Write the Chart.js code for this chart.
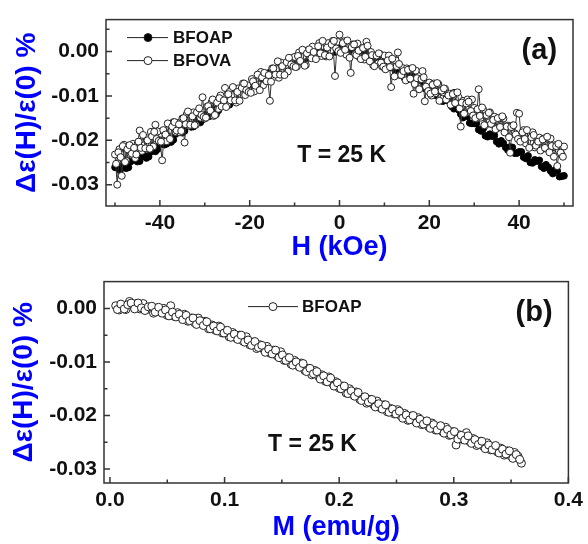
<!DOCTYPE html>
<html>
<head>
<meta charset="utf-8">
<script src="https://cdn.jsdelivr.net/npm/chart.js@4.4.1/dist/chart.umd.min.js"></script>
<style>
  body { margin: 0; background: #fff; }
  #wrap { position: relative; width: 588px; height: 544px; }
  canvas { position: absolute; left: 0; }
</style>
</head>
<body>
<div id="wrap">
  <canvas id="panelA" width="588" height="262" style="top:0"></canvas>
  <canvas id="panelB" width="588" height="282" style="top:262px"></canvas>
</div>
<script>
// panel (a): dielectric change vs field, two samples (field swept up, then back)
const fieldVA = [
  -50,-49.5,-49,-48.5,-48,-47.5,-47,-46.5,-46,-45.5,
  -45,-44.5,-44,-43.5,-43,-42.5,-42,-41.5,-41,-40.5,
  -40,-39.5,-39,-38.5,-38,-37.5,-37,-36.5,-36,-35.5,
  -35,-34.5,-34,-33.5,-33,-32.5,-32,-31.5,-31,-30.5,
  -30,-29.5,-29,-28.5,-28,-27.5,-27,-26.5,-26,-25.5,
  -25,-24.5,-24,-23.5,-23,-22.5,-22,-21.5,-21,-20.5,
  -20,-19.5,-19,-18.5,-18,-17.5,-17,-16.5,-16,-15.5,
  -15,-14.5,-14,-13.5,-13,-12.5,-12,-11.5,-11,-10.5,
  -10,-9.5,-9,-8.5,-8,-7.5,-7,-6.5,-6,-5.5,
  -5,-4.5,-4,-3.5,-3,-2.5,-2,-1.5,-1,-0.5,
  0,0.5,1,1.5,2,2.5,3,3.5,4,4.5,
  5,5.5,6,6.5,7,7.5,8,8.5,9,9.5,
  10,10.5,11,11.5,12,12.5,13,13.5,14,14.5,
  15,15.5,16,16.5,17,17.5,18,18.5,19,19.5,
  20,20.5,21,21.5,22,22.5,23,23.5,24,24.5,
  25,25.5,26,26.5,27,27.5,28,28.5,29,29.5,
  30,30.5,31,31.5,32,32.5,33,33.5,34,34.5,
  35,35.5,36,36.5,37,37.5,38,38.5,39,39.5,
  40,40.5,41,41.5,42,42.5,43,43.5,44,44.5,
  45,45.5,46,46.5,47,47.5,48,48.5,49,49.5,
  50
];
const bfova = [
  -0.0232,-0.0300,-0.0220,-0.0280,-0.0210,-0.0246,-0.0222,-0.0232,-0.0208,-0.0240,
  -0.0209,-0.0178,-0.0224,-0.0211,-0.0195,-0.0210,-0.0181,-0.0214,-0.0165,-0.0180,
  -0.0200,-0.0245,-0.0180,-0.0202,-0.0170,-0.0178,-0.0159,-0.0181,-0.0161,-0.0182,
  -0.0151,-0.0205,-0.0141,-0.0167,-0.0150,-0.0137,-0.0165,-0.0139,-0.0149,-0.0103,
  -0.0151,-0.0124,-0.0134,-0.0115,-0.0145,-0.0116,-0.0129,-0.0099,-0.0116,-0.0082,
  -0.0121,-0.0091,-0.0109,-0.0097,-0.0115,-0.0083,-0.0096,-0.0072,-0.0098,-0.0076,
  -0.0089,-0.0062,-0.0090,-0.0067,-0.0074,-0.0046,-0.0076,-0.0051,-0.0059,-0.0111,
  -0.0038,-0.0057,-0.0038,-0.0059,-0.0025,-0.0043,-0.0031,-0.0045,-0.0015,-0.0030,
  -0.0012,-0.0034,-0.0002,-0.0023,-0.0010,-0.0030,0.0003,-0.0013,0.0011,-0.0013,
  -0.0009,0.0019,-0.0010,0.0012,-0.0011,0.0019,0.0003,0.0024,-0.0055,0.0022,
  0.0038,0.0001,0.0023,-0.0007,0.0013,-0.0048,0.0016,-0.0006,0.0018,-0.0013,
  0.0007,-0.0018,0.0022,-0.0015,-0.0001,-0.0031,-0.0011,-0.0027,-0.0006,-0.0034,
  -0.0009,-0.0035,-0.0009,-0.0080,-0.0032,-0.0020,-0.0002,-0.0053,-0.0037,-0.0060,
  -0.0038,-0.0062,-0.0041,-0.0095,-0.0043,-0.0079,-0.0062,-0.0044,-0.0112,-0.0073,
  -0.0070,-0.0099,-0.0072,-0.0094,-0.0073,-0.0104,-0.0092,-0.0084,-0.0105,-0.0095,
  -0.0117,-0.0093,-0.0115,-0.0103,-0.0169,-0.0111,-0.0137,-0.0108,-0.0136,-0.0108,
  -0.0127,-0.0151,-0.0085,-0.0149,-0.0131,-0.0166,-0.0145,-0.0137,-0.0164,-0.0147,
  -0.0174,-0.0151,-0.0170,-0.0151,-0.0181,-0.0167,-0.0228,-0.0167,-0.0184,-0.0138,
  -0.0140,-0.0199,-0.0177,-0.0207,-0.0188,-0.0203,-0.0182,-0.0216,-0.0198,-0.0194,
  -0.0218,-0.0196,-0.0219,-0.0197,-0.0196,-0.0230,-0.0211,-0.0258,-0.0213,-0.0232,
  -0.0214
];
const fieldVA2 = [
  -49.75,-49.25,-48.75,-48.25,-47.75,-47.25,-46.75,-46.25,-45.75,-45.25,
  -44.75,-44.25,-43.75,-43.25,-42.75,-42.25,-41.75,-41.25,-40.75,-40.25,
  -39.75,-39.25,-38.75,-38.25,-37.75,-37.25,-36.75,-36.25,-35.75,-35.25,
  -34.75,-34.25,-33.75,-33.25,-32.75,-32.25,-31.75,-31.25,-30.75,-30.25,
  -29.75,-29.25,-28.75,-28.25,-27.75,-27.25,-26.75,-26.25,-25.75,-25.25,
  -24.75,-24.25,-23.75,-23.25,-22.75,-22.25,-21.75,-21.25,-20.75,-20.25,
  -19.75,-19.25,-18.75,-18.25,-17.75,-17.25,-16.75,-16.25,-15.75,-15.25,
  -14.75,-14.25,-13.75,-13.25,-12.75,-12.25,-11.75,-11.25,-10.75,-10.25,
  -9.75,-9.25,-8.75,-8.25,-7.75,-7.25,-6.75,-6.25,-5.75,-5.25,
  -4.75,-4.25,-3.75,-3.25,-2.75,-2.25,-1.75,-1.25,-0.75,-0.25,
  0.25,0.75,1.25,1.75,2.25,2.75,3.25,3.75,4.25,4.75,
  5.25,5.75,6.25,6.75,7.25,7.75,8.25,8.75,9.25,9.75,
  10.25,10.75,11.25,11.75,12.25,12.75,13.25,13.75,14.25,14.75,
  15.25,15.75,16.25,16.75,17.25,17.75,18.25,18.75,19.25,19.75,
  20.25,20.75,21.25,21.75,22.25,22.75,23.25,23.75,24.25,24.75,
  25.25,25.75,26.25,26.75,27.25,27.75,28.25,28.75,29.25,29.75,
  30.25,30.75,31.25,31.75,32.25,32.75,33.25,33.75,34.25,34.75,
  35.25,35.75,36.25,36.75,37.25,37.75,38.25,38.75,39.25,39.75,
  40.25,40.75,41.25,41.75,42.25,42.75,43.25,43.75,44.25,44.75,
  45.25,45.75,46.25,46.75,47.25,47.75,48.25,48.75,49.25,49.75
];
const bfova2 = [
  -0.0253,-0.0227,-0.0238,-0.0213,-0.0249,-0.0220,-0.0211,-0.0230,-0.0217,-0.0232,
  -0.0203,-0.0217,-0.0188,-0.0218,-0.0200,-0.0219,-0.0191,-0.0181,-0.0197,-0.0201,
  -0.0203,-0.0177,-0.0187,-0.0162,-0.0197,-0.0169,-0.0159,-0.0178,-0.0164,-0.0179,
  -0.0150,-0.0164,-0.0135,-0.0165,-0.0146,-0.0166,-0.0137,-0.0128,-0.0143,-0.0147,
  -0.0149,-0.0123,-0.0133,-0.0108,-0.0143,-0.0115,-0.0105,-0.0124,-0.0110,-0.0125,
  -0.0096,-0.0110,-0.0080,-0.0110,-0.0091,-0.0111,-0.0082,-0.0072,-0.0087,-0.0091,
  -0.0093,-0.0067,-0.0077,-0.0052,-0.0087,-0.0058,-0.0048,-0.0067,-0.0053,-0.0068,
  -0.0038,-0.0052,-0.0022,-0.0052,-0.0033,-0.0053,-0.0024,-0.0014,-0.0029,-0.0033,
  -0.0035,-0.0010,-0.0021,0.0004,-0.0032,-0.0004,0.0005,-0.0015,-0.0001,-0.0017,
  0.0012,-0.0004,0.0024,-0.0008,0.0009,-0.0011,0.0016,0.0024,0.0007,0.0001,
  -0.0003,0.0019,0.0004,0.0025,-0.0014,0.0010,0.0016,-0.0008,0.0002,-0.0017,
  0.0008,-0.0012,0.0013,-0.0022,-0.0008,-0.0033,-0.0009,-0.0004,-0.0025,-0.0034,
  -0.0040,-0.0020,-0.0035,-0.0016,-0.0056,-0.0033,-0.0028,-0.0053,-0.0044,-0.0065,
  -0.0041,-0.0061,-0.0037,-0.0073,-0.0060,-0.0085,-0.0062,-0.0058,-0.0079,-0.0089,
  -0.0095,-0.0075,-0.0090,-0.0071,-0.0111,-0.0088,-0.0083,-0.0108,-0.0099,-0.0120,
  -0.0096,-0.0116,-0.0092,-0.0128,-0.0115,-0.0140,-0.0117,-0.0113,-0.0134,-0.0144,
  -0.0150,-0.0130,-0.0145,-0.0126,-0.0166,-0.0143,-0.0138,-0.0163,-0.0154,-0.0175,
  -0.0150,-0.0170,-0.0146,-0.0182,-0.0169,-0.0193,-0.0170,-0.0166,-0.0187,-0.0197,
  -0.0203,-0.0182,-0.0197,-0.0177,-0.0217,-0.0193,-0.0188,-0.0212,-0.0203,-0.0223,
  -0.0198,-0.0217,-0.0192,-0.0227,-0.0213,-0.0237,-0.0213,-0.0208,-0.0228,-0.0237
];
const fieldAP = [
  -50,-49,-48,-47,-46,-45,-44,-43,-42,-41,
  -40,-39,-38,-37,-36,-35,-34,-33,-32,-31,
  -30,-29,-28,-27,-26,-25,-24,-23,-22,-21,
  -20,-19,-18,-17,-16,-15,-14,-13,-12,-11,
  -10,-9,-8,-7,-6,-5,-4,-3,-2,-1,
  0,1,2,3,4,5,6,7,8,9,
  10,11,12,13,14,15,16,17,18,19,
  20,21,22,23,24,25,26,27,28,29,
  30,31,32,33,34,35,36,37,38,39,
  40,41,42,43,44,45,46,47,48,49,
  50
];
const bfoap = [
  -0.0261,-0.0267,-0.0255,-0.0261,-0.0242,-0.0248,-0.0234,-0.0240,-0.0226,-0.0225,
  -0.0209,-0.0210,-0.0198,-0.0199,-0.0181,-0.0183,-0.0165,-0.0170,-0.0157,-0.0160,
  -0.0145,-0.0146,-0.0130,-0.0133,-0.0118,-0.0122,-0.0106,-0.0105,-0.0090,-0.0095,
  -0.0082,-0.0084,-0.0066,-0.0067,-0.0053,-0.0055,-0.0038,-0.0041,-0.0029,-0.0030,
  -0.0013,-0.0017,-0.0005,-0.0012,0.0000,-0.0004,0.0006,-0.0001,0.0007,-0.0001,
  0.0008,0.0000,0.0007,-0.0005,0.0002,-0.0006,-0.0002,-0.0014,-0.0010,-0.0025,
  -0.0022,-0.0034,-0.0030,-0.0046,-0.0043,-0.0053,-0.0052,-0.0068,-0.0068,-0.0083,
  -0.0081,-0.0095,-0.0094,-0.0112,-0.0110,-0.0124,-0.0124,-0.0141,-0.0143,-0.0161,
  -0.0162,-0.0176,-0.0174,-0.0192,-0.0191,-0.0203,-0.0201,-0.0216,-0.0215,-0.0229,
  -0.0226,-0.0238,-0.0235,-0.0251,-0.0247,-0.0259,-0.0255,-0.0269,-0.0267,-0.0282,
  -0.0280
];
const fieldAP2 = [
  -49.5,-48.5,-47.5,-46.5,-45.5,-44.5,-43.5,-42.5,-41.5,-40.5,
  -39.5,-38.5,-37.5,-36.5,-35.5,-34.5,-33.5,-32.5,-31.5,-30.5,
  -29.5,-28.5,-27.5,-26.5,-25.5,-24.5,-23.5,-22.5,-21.5,-20.5,
  -19.5,-18.5,-17.5,-16.5,-15.5,-14.5,-13.5,-12.5,-11.5,-10.5,
  -9.5,-8.5,-7.5,-6.5,-5.5,-4.5,-3.5,-2.5,-1.5,-0.5,
  0.5,1.5,2.5,3.5,4.5,5.5,6.5,7.5,8.5,9.5,
  10.5,11.5,12.5,13.5,14.5,15.5,16.5,17.5,18.5,19.5,
  20.5,21.5,22.5,23.5,24.5,25.5,26.5,27.5,28.5,29.5,
  30.5,31.5,32.5,33.5,34.5,35.5,36.5,37.5,38.5,39.5,
  40.5,41.5,42.5,43.5,44.5,45.5,46.5,47.5,48.5,49.5
];
const bfoap2 = [
  -0.0257,-0.0263,-0.0263,-0.0248,-0.0240,-0.0247,-0.0234,-0.0237,-0.0219,-0.0220,
  -0.0205,-0.0208,-0.0204,-0.0186,-0.0175,-0.0179,-0.0166,-0.0169,-0.0152,-0.0153,
  -0.0140,-0.0144,-0.0142,-0.0125,-0.0115,-0.0120,-0.0106,-0.0108,-0.0089,-0.0089,
  -0.0076,-0.0079,-0.0076,-0.0058,-0.0047,-0.0052,-0.0038,-0.0041,-0.0022,-0.0023,
  -0.0010,-0.0017,-0.0017,-0.0002,0.0005,-0.0005,0.0003,-0.0005,0.0008,0.0002,
  0.0010,-0.0001,-0.0007,0.0003,0.0006,-0.0009,-0.0007,-0.0020,-0.0013,-0.0025,
  -0.0021,-0.0036,-0.0045,-0.0039,-0.0040,-0.0058,-0.0058,-0.0074,-0.0069,-0.0083,
  -0.0082,-0.0099,-0.0110,-0.0106,-0.0109,-0.0129,-0.0131,-0.0149,-0.0146,-0.0162,
  -0.0162,-0.0179,-0.0190,-0.0186,-0.0189,-0.0208,-0.0207,-0.0222,-0.0216,-0.0229,
  -0.0226,-0.0241,-0.0250,-0.0244,-0.0245,-0.0263,-0.0261,-0.0275,-0.0269,-0.0281
];

// panel (b): BFOAP vs magnetization (up and back)
const magM = [
  0.005,0.008,0.011,0.014,0.017,0.020,0.023,0.026,0.029,0.032,
  0.035,0.038,0.041,0.044,0.047,0.050,0.053,0.056,0.059,0.062,
  0.065,0.068,0.071,0.074,0.077,0.080,0.083,0.086,0.089,0.092,
  0.095,0.098,0.101,0.104,0.107,0.110,0.113,0.116,0.119,0.122,
  0.125,0.128,0.131,0.134,0.137,0.140,0.143,0.146,0.149,0.152,
  0.155,0.158,0.161,0.164,0.167,0.170,0.173,0.176,0.179,0.182,
  0.185,0.188,0.191,0.194,0.197,0.200,0.203,0.206,0.209,0.212,
  0.215,0.218,0.221,0.224,0.227,0.230,0.233,0.236,0.239,0.242,
  0.245,0.248,0.251,0.254,0.257,0.260,0.263,0.266,0.269,0.272,
  0.275,0.278,0.281,0.284,0.287,0.290,0.293,0.296,0.299,0.302,
  0.305,0.308,0.311,0.314,0.317,0.320,0.323,0.326,0.329,0.332,
  0.335,0.338,0.341,0.344,0.347,0.350,0.353,0.356,0.359
];
const bfoapM = [
  0.0005,-0.0003,0.0005,-0.0002,0.0013,0.0006,0.0009,-0.0001,0.0009,-0.0002,
  0.0000,-0.0009,0.0001,-0.0007,0.0000,-0.0013,0.0005,-0.0015,-0.0008,-0.0017,
  -0.0011,-0.0024,-0.0018,-0.0027,-0.0018,-0.0029,-0.0024,-0.0038,-0.0031,-0.0041,
  -0.0033,-0.0046,-0.0042,-0.0053,-0.0045,-0.0055,-0.0050,-0.0061,-0.0053,-0.0068,
  -0.0063,-0.0075,-0.0068,-0.0076,-0.0071,-0.0084,-0.0078,-0.0089,-0.0081,-0.0097,
  -0.0092,-0.0104,-0.0097,-0.0107,-0.0102,-0.0116,-0.0112,-0.0124,-0.0116,-0.0127,
  -0.0124,-0.0136,-0.0128,-0.0140,-0.0137,-0.0149,-0.0145,-0.0158,-0.0150,-0.0161,
  -0.0156,-0.0170,-0.0166,-0.0177,-0.0170,-0.0180,-0.0173,-0.0186,-0.0180,-0.0193,
  -0.0187,-0.0197,-0.0189,-0.0201,-0.0196,-0.0209,-0.0201,-0.0210,-0.0204,-0.0217,
  -0.0211,-0.0221,-0.0214,-0.0227,-0.0221,-0.0230,-0.0222,-0.0237,-0.0230,-0.0255,
  -0.0236,-0.0245,-0.0232,-0.0249,-0.0243,-0.0256,-0.0248,-0.0258,-0.0251,-0.0264,
  -0.0258,-0.0268,-0.0261,-0.0274,-0.0266,-0.0276,-0.0269,-0.0276,-0.0289
];
const magM2 = [
  0.0065,0.0095,0.0125,0.0155,0.0185,0.0215,0.0245,0.0275,0.0305,0.0335,
  0.0365,0.0395,0.0425,0.0455,0.0485,0.0515,0.0545,0.0575,0.0605,0.0635,
  0.0665,0.0695,0.0725,0.0755,0.0785,0.0815,0.0845,0.0875,0.0905,0.0935,
  0.0965,0.0995,0.1025,0.1055,0.1085,0.1115,0.1145,0.1175,0.1205,0.1235,
  0.1265,0.1295,0.1325,0.1355,0.1385,0.1415,0.1445,0.1475,0.1505,0.1535,
  0.1565,0.1595,0.1625,0.1655,0.1685,0.1715,0.1745,0.1775,0.1805,0.1835,
  0.1865,0.1895,0.1925,0.1955,0.1985,0.2015,0.2045,0.2075,0.2105,0.2135,
  0.2165,0.2195,0.2225,0.2255,0.2285,0.2315,0.2345,0.2375,0.2405,0.2435,
  0.2465,0.2495,0.2525,0.2555,0.2585,0.2615,0.2645,0.2675,0.2705,0.2735,
  0.2765,0.2795,0.2825,0.2855,0.2885,0.2915,0.2945,0.2975,0.3005,0.3035,
  0.3065,0.3095,0.3125,0.3155,0.3185,0.3215,0.3245,0.3275,0.3305,0.3335,
  0.3365,0.3395,0.3425,0.3455,0.3485,0.3515,0.3545,0.3575
];
const bfoapM2 = [
  -0.0002,0.0008,-0.0001,0.0007,0.0010,-0.0001,0.0010,0.0001,-0.0004,0.0003,
  0.0004,-0.0007,0.0002,-0.0009,-0.0003,-0.0014,-0.0007,-0.0016,-0.0011,-0.0021,
  -0.0013,-0.0023,-0.0018,-0.0030,-0.0023,-0.0032,-0.0025,-0.0038,-0.0033,-0.0042,
  -0.0035,-0.0046,-0.0041,-0.0054,-0.0048,-0.0058,-0.0050,-0.0063,-0.0059,-0.0069,
  -0.0062,-0.0073,-0.0069,-0.0082,-0.0076,-0.0085,-0.0078,-0.0092,-0.0087,-0.0097,
  -0.0092,-0.0106,-0.0100,-0.0110,-0.0103,-0.0118,-0.0112,-0.0122,-0.0118,-0.0132,
  -0.0126,-0.0137,-0.0130,-0.0145,-0.0139,-0.0150,-0.0145,-0.0159,-0.0154,-0.0164,
  -0.0157,-0.0172,-0.0165,-0.0175,-0.0170,-0.0184,-0.0178,-0.0188,-0.0180,-0.0194,
  -0.0188,-0.0197,-0.0192,-0.0205,-0.0199,-0.0208,-0.0200,-0.0214,-0.0207,-0.0216,
  -0.0210,-0.0224,-0.0217,-0.0227,-0.0219,-0.0233,-0.0226,-0.0236,-0.0230,-0.0244,
  -0.0237,-0.0246,-0.0238,-0.0252,-0.0245,-0.0254,-0.0248,-0.0262,-0.0255,-0.0264,
  -0.0256,-0.0270,-0.0263,-0.0272,-0.0266,-0.0280,-0.0273,-0.0282
];

// tick values
const xTicksA = [-40, -20, 0, 20, 40];
const xMinorA = [-50, -30, -10, 10, 30, 50];
const xTicksB = [0, 0.1, 0.2, 0.3, 0.4];
const xMinorB = [0.05, 0.15, 0.25, 0.35];
const yTicks = [0, -0.01, -0.02, -0.03];
const yMinorA = [0.005, -0.005, -0.015, -0.025];
const yMinorB = [-0.005, -0.015, -0.025];

const FONT = 'Arial, "Liberation Sans", sans-serif';
const BLUE = '#0000ff';

function pts(xs, ys) {
  return xs.map((x, i) => ({x: x, y: ys[i]}));
}

function openSet(label, data, order, r) {
  return {
    label: label, data: data, showLine: true, order: order,
    borderColor: '#333', borderWidth: 1,
    pointRadius: r, pointBackgroundColor: '#fff', pointBorderColor: '#222', pointBorderWidth: 1
  };
}
function filledSet(label, data, order) {
  return {
    label: label, data: data, showLine: true, order: order,
    borderColor: '#111', borderWidth: 1,
    pointRadius: 3.3, pointBackgroundColor: '#000', pointBorderColor: '#000', pointBorderWidth: 1
  };
}

// frame, inward ticks, legend and labels drawn on top of the data
const decor = {
  id: 'decor',
  afterDatasetsDraw(chart, args, o) {
    const ctx = chart.ctx;
    const {left, right, top, bottom} = chart.chartArea;
    const xs = chart.scales.x, ys = chart.scales.y;
    ctx.save();
    ctx.strokeStyle = '#333';
    ctx.lineWidth = 1.5;
    ctx.beginPath();
    o.xMajor.forEach(v => { const p = xs.getPixelForValue(v); ctx.moveTo(p, bottom); ctx.lineTo(p, bottom - 6); });
    o.xMinor.forEach(v => { const p = xs.getPixelForValue(v); ctx.moveTo(p, bottom); ctx.lineTo(p, bottom - 3.5); });
    o.yMajor.forEach(v => { const p = ys.getPixelForValue(v); ctx.moveTo(left, p); ctx.lineTo(left + 6, p); });
    o.yMinor.forEach(v => { const p = ys.getPixelForValue(v); ctx.moveTo(left, p); ctx.lineTo(left + 3.5, p); });
    ctx.stroke();
    ctx.strokeRect(left, top, right - left, bottom - top);

    // legend
    ctx.font = 'bold 17px ' + FONT;
    ctx.textAlign = 'left';
    ctx.textBaseline = 'middle';
    o.legend.forEach(item => {
      const y = top + item.dy;
      ctx.strokeStyle = '#222';
      ctx.lineWidth = 1;
      ctx.beginPath();
      ctx.moveTo(left + item.x0, y);
      ctx.lineTo(left + item.x1, y);
      ctx.stroke();
      ctx.beginPath();
      ctx.arc(left + item.xm, y, 4, 0, Math.PI * 2);
      ctx.fillStyle = item.fill;
      ctx.fill();
      ctx.stroke();
      ctx.fillStyle = '#111';
      ctx.fillText(item.text, left + item.xt, y + 1);
    });

    ctx.fillStyle = '#111';
    ctx.font = 'bold 23px ' + FONT;
    ctx.fillText('T = 25 K', xs.getPixelForValue(o.tempAt[0]), ys.getPixelForValue(o.tempAt[1]));
    ctx.font = 'bold 29px ' + FONT;
    ctx.textAlign = 'center';
    ctx.fillText(o.tag, xs.getPixelForValue(o.tagAt[0]), ys.getPixelForValue(o.tagAt[1]));
    ctx.restore();
  }
};

function xAxis(min, max, major, fmt, title, h, pad) {
  return {
    type: 'linear', min: min, max: max,
    grid: {display: false, drawTicks: false},
    border: {display: false},
    afterBuildTicks: s => { s.ticks = major.map(v => ({value: v})); },
    afterFit: s => { s.height = h; },
    ticks: {font: {family: FONT, size: 21, weight: 'bold'}, color: '#111', padding: 5,
            maxRotation: 0, autoSkip: false, callback: fmt},
    title: {display: true, text: title, color: BLUE,
            font: {family: FONT, size: 27, weight: 'bold', lineHeight: 1},
            padding: {top: 0, bottom: pad}}
  };
}

function yAxis(min, max, w, pad) {
  return {
    type: 'linear', min: min, max: max,
    grid: {display: false, drawTicks: false},
    border: {display: false},
    afterBuildTicks: s => { s.ticks = yTicks.map(v => ({value: v})); },
    afterFit: s => { s.width = w; },
    ticks: {font: {family: FONT, size: 21, weight: 'bold'}, color: '#111', padding: 7,
            autoSkip: false, callback: v => v.toFixed(2)},
    title: {display: true, text: 'Δε(H)/ε(0) %', color: BLUE,
            font: {family: FONT, size: 28, weight: 'bold', lineHeight: 1},
            padding: {top: pad, bottom: 0}}
  };
}

new Chart(document.getElementById('panelA'), {
  type: 'scatter',
  data: {
    datasets: [
      filledSet('BFOAP', pts(fieldAP, bfoap), 3),
      filledSet('BFOAP back', pts(fieldAP2, bfoap2), 2),
      openSet('BFOVA', pts(fieldVA, bfova), 1, 3.5),
      openSet('BFOVA back', pts(fieldVA2, bfova2), 0, 3.5)
    ]
  },
  options: {
    responsive: false, animation: false, devicePixelRatio: 1,
    layout: {padding: {top: 9, right: 15, left: 0, bottom: 0}},
    plugins: {
      legend: {display: false}, tooltip: {enabled: false},
      decor: {
        xMajor: xTicksA, xMinor: xMinorA, yMajor: yTicks, yMinor: yMinorA,
        legend: [
          {text: 'BFOAP', dy: 18, x0: 21, x1: 62, xm: 42, xt: 67, fill: '#000'},
          {text: 'BFOVA', dy: 41, x0: 21, x1: 62, xm: 42, xt: 67, fill: '#fff'}
        ],
        tempAt: [-9.4, -0.0235], tag: '(a)', tagAt: [44.5, 0.0002]
      }
    },
    scales: {
      x: xAxis(-52, 52, xTicksA, v => String(v), 'H (kOe)', 56, 1),
      y: yAxis(-0.0348, 0.0072, 106, 13)
    }
  },
  plugins: [decor]
});

new Chart(document.getElementById('panelB'), {
  type: 'scatter',
  data: {
    datasets: [
      openSet('BFOAP', pts(magM, bfoapM), 1, 4),
      openSet('BFOAP back', pts(magM2, bfoapM2), 0, 4)
    ]
  },
  options: {
    responsive: false, animation: false, devicePixelRatio: 1,
    layout: {padding: {top: 11, right: 16, left: 0, bottom: 0}},
    plugins: {
      legend: {display: false}, tooltip: {enabled: false},
      decor: {
        xMajor: xTicksB, xMinor: xMinorB, yMajor: yTicks, yMinor: yMinorB,
        legend: [
          {text: 'BFOAP', dy: 25, x0: 144, x1: 194, xm: 169, xt: 198, fill: '#fff'}
        ],
        tempAt: [0.138, -0.0254], tag: '(b)', tagAt: [0.370, -0.0008]
      }
    },
    scales: {
      x: xAxis(-0.0052, 0.4, xTicksB, v => v.toFixed(1), 'M (emu/g)', 61, 3),
      y: yAxis(-0.0326, 0.005, 104, 10)
    }
  },
  plugins: [decor]
});
</script>
</body>
</html>
